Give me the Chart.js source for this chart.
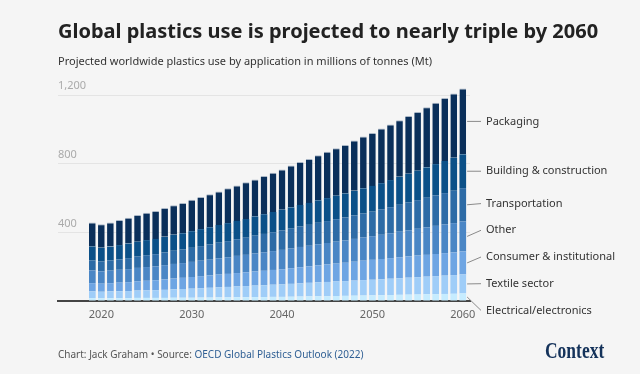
<!DOCTYPE html>
<html>
<head>
<meta charset="utf-8">
<script src="https://cdn.jsdelivr.net/npm/chart.js@4"></script>
<style>
  html, body { margin:0; padding:0; background:#f5f5f5; }
  body { width:640px; height:374px; position:relative; overflow:hidden; font-family:"Noto Sans", "Open Sans", sans-serif; }
  #c { position:absolute; left:0; top:0; }
  .title { position:absolute; left:58px; top:17px; font-size:20px; font-weight:700; color:#222; white-space:nowrap; }
  .sub { position:absolute; left:58px; top:53px; font-size:11px; color:#333; white-space:nowrap; }
  .foot { position:absolute; left:58px; top:347px; font-size:10px; color:#555; white-space:nowrap; }
  .foot span { color:#2f5f94; }
  .logo { position:absolute; left:545px; top:338px; font-family:"Liberation Serif", "DejaVu Serif", serif; font-weight:700; font-size:23px; color:#14325a; transform:scaleX(0.76); transform-origin:left top; }
</style>
</head>
<body>
<canvas id="c" width="640" height="374"></canvas>
<div class="title">Global plastics use is projected to nearly triple by 2060</div>
<div class="sub">Projected worldwide plastics use by application in millions of tonnes (Mt)</div>
<div class="foot">Chart: Jack Graham • Source: <span>OECD Global Plastics Outlook (2022)</span></div>
<div class="logo">Context</div>
<script>
const years = [2019,2020,2021,2022,2023,2024,2025,2026,2027,2028,2029,2030,2031,2032,2033,2034,2035,2036,2037,2038,2039,2040,2041,2042,2043,2044,2045,2046,2047,2048,2049,2050,2051,2052,2053,2054,2055,2056,2057,2058,2059,2060];

const packaging = [140,137,141,146,150,155,160,163,168,172,177,183,187,193,196,203,206,214,216,223,229,234,244,251,256,263,270,276,283,293,302,308,318,324,330,336,342,350,358,367,375,384];
const building = [82,80,81,83,85,87,88,89,91,93,95,97,99,101,103,105,107,109,112,115,118,121,124,126,128,131,134,137,140,143,147,150,154,158,163,168,172,177,182,187,192,197];
const transportation = [58,57,59,61,64,66,69,71,74,77,79,82,85,88,91,94,97,100,104,107,110,113,116,119,122,125,128,131,134,137,140,143,147,152,157,162,167,173,178,183,189,194];
const other = [74,72,73,75,76,78,80,81,83,85,86,88,90,92,95,97,100,102,105,108,110,113,115,118,120,123,125,128,130,133,135,138,141,145,149,152,156,160,164,167,171,175];
const consumer = [48,47,48,50,52,54,56,58,61,63,65,68,70,72,74,76,78,80,82,84,86,88,91,94,96,99,102,104,107,110,113,116,118,120,122,124,126,127,129,131,132,134];
const textile = [39,38,39,40,41,43,44,45,47,49,51,53,55,57,59,61,63,65,67,69,71,73,75,77,79,81,83,85,86,88,90,91,93,95,97,99,101,103,105,107,109,111];
const electrical = [17,16,17,17,17,18,18,18,18,19,19,19,20,20,21,21,22,22,23,23,24,24,25,26,27,28,28,29,30,31,32,33,34,35,36,37,38,39,40,41,42,44];

const seriesNames = ["Electrical/electronics","Textile sector","Consumer & institutional","Other","Transportation","Building & construction","Packaging"];
const xTicks = [2020,2030,2040,2050,2060];
const yTicks = [400,800,1200];

const colors = ["#c6ecff","#9fcdf8","#6ea5e3","#4a86c5","#2d6ba6","#0b5088","#0a2f5a"];
const seriesData = [electrical, textile, consumer, other, transportation, building, packaging];
const FONT = "'Noto Sans', 'Open Sans', sans-serif";

const datasets = seriesData.map((d,i)=>({
  label: seriesNames[i],
  data: d,
  backgroundColor: colors[i],
  borderColor: i===6 ? "#aab7c6" : colors[i],
  borderWidth: i===6 ? {top:1,left:0,right:0,bottom:0} : 0,
  borderSkipped: false,
  barPercentage: 0.74,
  categoryPercentage: 1.0
}));

const sideLabels = {
  id: 'sideLabels',
  afterDatasetsDraw(chart) {
    const ctx = chart.ctx;
    const n = chart.data.datasets.length;
    const items = [];
    for (let i = 0; i < n; i++) {
      const meta = chart.getDatasetMeta(i);
      const el = meta.data[meta.data.length - 1];
      const mid = (el.y + el.base) / 2;
      items.push({ name: chart.data.datasets[i].label, mid, x: el.x + el.width/2, y: mid });
    }
    items.sort((a,b)=>a.mid-b.mid);
    const gap = 26.7;
    let clusters = items.map(it=>({items:[it], center: it.mid}));
    let changed = true;
    while (changed) {
      changed = false;
      for (let k = 0; k < clusters.length-1; k++) {
        const a = clusters[k], b = clusters[k+1];
        const aBottom = a.center + (a.items.length-1)*gap/2;
        const bTop = b.center - (b.items.length-1)*gap/2;
        if (bTop - aBottom < gap) {
          const all = a.items.concat(b.items);
          const mean = all.reduce((s,it)=>s+it.mid,0)/all.length;
          clusters.splice(k,2,{items:all, center:mean});
          changed = true;
          break;
        }
      }
    }
    clusters.forEach(c=>{
      c.items.forEach((it,j)=>{ it.y = c.center + (j - (c.items.length-1)/2)*gap; });
    });
    ctx.save();
    ctx.strokeStyle = "#8a8a8a";
    ctx.lineWidth = 1;
    ctx.font = "11px " + FONT;
    ctx.fillStyle = "#333";
    ctx.textBaseline = "middle";
    ctx.textAlign = "left";
    items.forEach(it=>{
      ctx.beginPath();
      ctx.moveTo(it.x + 1, it.mid);
      ctx.lineTo(481, it.y);
      ctx.stroke();
      ctx.fillText(it.name, 486, it.y);
    });
    ctx.restore();
  }
};

new Chart(document.getElementById('c'), {
  type: 'bar',
  data: { labels: years, datasets },
  options: {
    responsive: false,
    animation: false,
    devicePixelRatio: 1,
    layout: { padding: { left: 58, right: 170, top: 78, bottom: 43 } },
    plugins: { legend: { display: false }, tooltip: { enabled: false } },
    scales: {
      x: {
        type: 'linear',
        stacked: true,
        offset: false,
        min: 2015.2,
        max: 2060.8,
        afterBuildTicks: (s) => { s.ticks = xTicks.map(v=>({value:v})); },
        afterFit: (s) => { s.height = 30; },
        grid: { display: false, drawTicks: false, offset: false },
        border: { display: true, color: "#444", width: 2 },
        ticks: { color: "#666", padding: 7, font: { family: FONT, size: 11 }, callback: (v)=>String(v) }
      },
      y: {
        stacked: true,
        min: 0,
        max: 1300,
        afterBuildTicks: (s) => { s.ticks = [0].concat(yTicks).map(v=>({value:v})); },
        afterFit: (s) => { s.width = 0; },
        grid: { drawTicks: false, color: (c)=> c.tick && c.tick.value > 0 ? "#e4e4e4" : "rgba(0,0,0,0)" },
        border: { display: false },
        ticks: {
          mirror: true, padding: 0, labelOffset: -9,
          color: "#aaa",
          font: { family: FONT, size: 11 },
          callback: (v)=> v > 0 ? v.toLocaleString('en-US') : ''
        }
      }
    }
  },
  plugins: [sideLabels]
});
</script>
</body>
</html>
